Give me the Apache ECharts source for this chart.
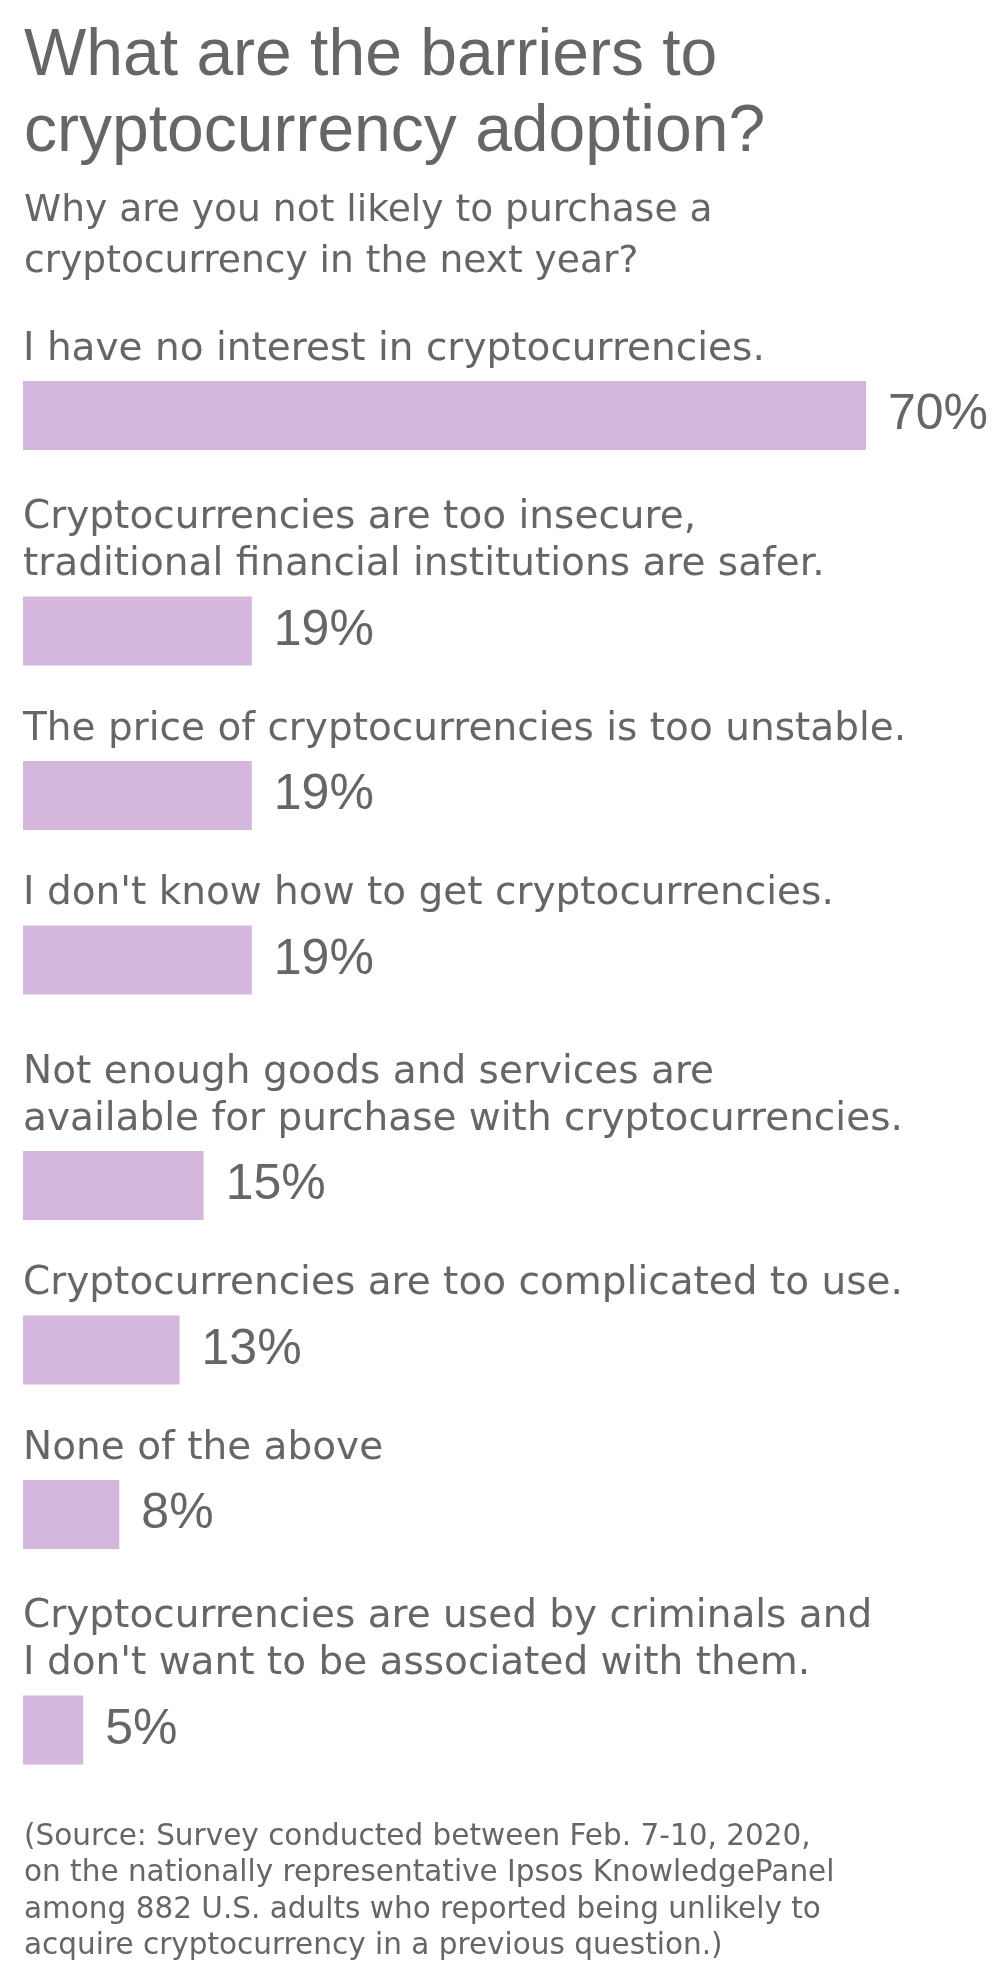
<!DOCTYPE html>
<html>
<head>
<meta charset="utf-8">
<script src="https://cdn.jsdelivr.net/npm/echarts@6/dist/echarts.min.js"></script>
<style>
  html, body { margin: 0; padding: 0; background: #ffffff; }
  #chart { width: 1000px; height: 1970px; }
</style>
</head>
<body>
<div id="chart"></div>
<script>
// ---- data ----
const titleText = "What are the barriers to\ncryptocurrency adoption?";
const subtitleText = "Why are you not likely to purchase a\ncryptocurrency in the next year?";
const sourceText = "(Source: Survey conducted between Feb. 7-10, 2020,\non the nationally representative Ipsos KnowledgePanel\namong 882 U.S. adults who reported being unlikely to\nacquire cryptocurrency in a previous question.)";
const categories = [
  "I have no interest in cryptocurrencies.",
  "Cryptocurrencies are too insecure,\ntraditional financial institutions are safer.",
  "The price of cryptocurrencies is too unstable.",
  "I don't know how to get cryptocurrencies.",
  "Not enough goods and services are\navailable for purchase with cryptocurrencies.",
  "Cryptocurrencies are too complicated to use.",
  "None of the above",
  "Cryptocurrencies are used by criminals and\nI don't want to be associated with them."
];
const values = [70, 19, 19, 19, 15, 13, 8, 5];
const valueSuffix = "%";

// ---- layout / style ----
const TEXT = '#666666';
const BAR = '#d5b6dc';
const LAYOUT = {
  left: 23, plotWidth: 843, axisMax: 70, barH: 69,
  firstTop: 381, rowStep: 164.5, extraLine: 51,
  extraGap: [0, 0, 0, 0, 10, 0, 0, 0]
};

const tops = [];
let y = LAYOUT.firstTop;
categories.forEach((c, i) => {
  if (i > 0) {
    const lines = c.split('\n').length;
    y += LAYOUT.rowStep + (lines - 1) * LAYOUT.extraLine + LAYOUT.extraGap[i];
  }
  tops.push(y);
});

const grids = [], xAxes = [], yAxes = [], series = [];
categories.forEach((cat, i) => {
  grids.push({ left: LAYOUT.left, top: tops[i], width: LAYOUT.plotWidth, height: LAYOUT.barH, containLabel: false });
  xAxes.push({ type: 'value', gridIndex: i, min: 0, max: LAYOUT.axisMax, show: false });
  yAxes.push({
    type: 'category', gridIndex: i, data: [cat],
    axisLine: { show: false }, axisTick: { show: false }, axisLabel: { show: false }, splitLine: { show: false },
    name: cat, nameLocation: 'end', nameGap: 8,
    nameTextStyle: {
      fontFamily: 'DejaVu Sans', fontSize: 39, lineHeight: 47, color: TEXT,
      align: 'left', verticalAlign: 'bottom'
    }
  });
  series.push({
    type: 'bar', xAxisIndex: i, yAxisIndex: i,
    data: [values[i]], barWidth: LAYOUT.barH,
    itemStyle: { color: BAR },
    silent: true,
    label: {
      show: true, position: 'right', distance: 22,
      formatter: p => p.value + valueSuffix,
      fontFamily: 'Liberation Sans', fontSize: 50, color: TEXT
    }
  });
});

const chart = echarts.init(document.getElementById('chart'), null, { renderer: 'canvas' });
chart.setOption({
  backgroundColor: '#ffffff',
  animation: false,
  title: [
    { text: titleText, left: 24, top: 19, padding: 0,
      textStyle: { fontFamily: 'Liberation Sans', fontSize: 66, fontWeight: 'normal', color: TEXT, lineHeight: 76 } },
    { text: subtitleText, left: 24, top: 186, padding: 0,
      textStyle: { fontFamily: 'DejaVu Sans', fontSize: 37.6, fontWeight: 'normal', color: TEXT, lineHeight: 51 } },
    { text: sourceText, left: 24, top: 1819, padding: 0,
      textStyle: { fontFamily: 'DejaVu Sans', fontSize: 29.5, fontWeight: 'normal', color: TEXT, lineHeight: 36.5 } }
  ],
  grid: grids,
  xAxis: xAxes,
  yAxis: yAxes,
  series: series
});
</script>
</body>
</html>
